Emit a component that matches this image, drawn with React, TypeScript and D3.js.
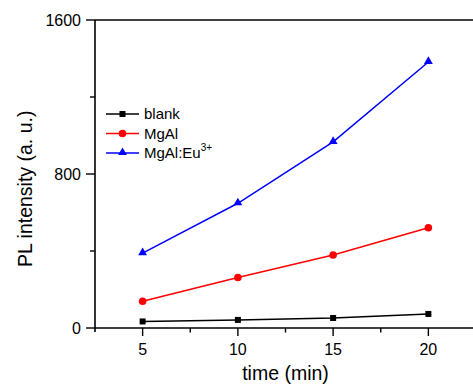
import React from "react";
import * as d3 from "d3";

const times = [5, 10, 15, 20];
const blankValues = [34, 42, 52, 73];
const mgalValues = [139, 262, 379, 521];
const euValues = [389, 648, 967, 1382];
const yTicks = [0, 800, 1600];
const yMinorTicks = [400, 1200];
const xTicks = [5, 10, 15, 20];
const xMinorTicks = [7.5, 12.5, 17.5];

const W = 473;
const H = 389;
const FONT = "'Liberation Sans', Arial, sans-serif";

const x = d3.scaleLinear().domain([2.5, 22.5]).range([95, 476]);
const y = d3.scaleLinear().domain([0, 1600]).range([328, 20]);

type Series = { name: string; values: number[]; color: string; marker: "square" | "circle" | "triangle" };
const series: Series[] = [
  { name: "blank", values: blankValues, color: "#000000", marker: "square" },
  { name: "MgAl", values: mgalValues, color: "#ff0000", marker: "circle" },
  { name: "MgAl:Eu", values: euValues, color: "#0000ff", marker: "triangle" },
];

function Marker({ kind, cx, cy, color }: { kind: string; cx: number; cy: number; color: string }) {
  if (kind === "square") return <rect x={cx - 3} y={cy - 3} width={6} height={6} fill={color} />;
  if (kind === "circle") return <circle cx={cx} cy={cy} r={3.8} fill={color} />;
  const sym = d3.symbol().type(d3.symbolTriangle).size(34)();
  return <path d={sym || ""} transform={`translate(${cx},${cy - 0.5})`} fill={color} />;
}

export default function App() {
  const line = d3
    .line<[number, number]>()
    .x((d) => x(d[0]))
    .y((d) => y(d[1]));
  const [x0, x1] = x.range();
  const [yb, yt] = y.range();
  const legendY = [114, 133.5, 153];

  return (
    <svg
      width={W}
      height={H}
      style={{ position: "absolute", left: 0, top: 0, background: "#fff" }}
      fontFamily={FONT}
    >
      {/* frame */}
      <g stroke="#000" strokeWidth={1.6} fill="none">
        <line x1={x0} y1={yt} x2={x1} y2={yt} />
        <line x1={x0} y1={yb} x2={x1} y2={yb} />
        <line x1={x0} y1={yt} x2={x0} y2={yb + 4} />
        <line x1={x1} y1={yt} x2={x1} y2={yb} />
      </g>

      {/* y ticks */}
      <g stroke="#000" strokeWidth={1.4}>
        {yTicks.map((t) => (
          <line key={t} x1={x0 - 9} x2={x0} y1={y(t)} y2={y(t)} />
        ))}
        {yMinorTicks.map((t) => (
          <line key={t} x1={x0 - 5} x2={x0} y1={y(t)} y2={y(t)} />
        ))}
      </g>
      {yTicks.map((t) => (
        <text key={t} x={x0 - 14} y={y(t)} dy="0.36em" textAnchor="end" fontSize={16} fill="#000">
          {t}
        </text>
      ))}

      {/* x ticks */}
      <g stroke="#000" strokeWidth={1.4}>
        {xTicks.map((t) => (
          <line key={t} x1={x(t)} x2={x(t)} y1={yb} y2={yb + 8} />
        ))}
        {xMinorTicks.map((t) => (
          <line key={t} x1={x(t)} x2={x(t)} y1={yb} y2={yb + 4.5} />
        ))}
      </g>
      {xTicks.map((t) => (
        <text key={t} x={x(t)} y={355} textAnchor="middle" fontSize={16} fill="#000">
          {t}
        </text>
      ))}

      {/* axis titles */}
      <text x={(x0 + x1) / 2} y={380} textAnchor="middle" fontSize={19.5} fill="#000">
        time (min)
      </text>
      <text
        transform="translate(32,267) rotate(-90)"
        textAnchor="start"
        fontSize={19.5}
        fill="#000"
      >
        PL intensity (a. u.)
      </text>

      {/* series */}
      {series.map((s) => {
        const pts: [number, number][] = times.map((t, i) => [t, s.values[i]]);
        return (
          <g key={s.name}>
            <path d={line(pts) || ""} fill="none" stroke={s.color} strokeWidth={1.5} />
            {pts.map((p, i) => (
              <Marker key={i} kind={s.marker} cx={x(p[0])} cy={y(p[1])} color={s.color} />
            ))}
          </g>
        );
      })}

      {/* legend */}
      {series.map((s, i) => (
        <g key={s.name}>
          <line x1={106} x2={139} y1={legendY[i]} y2={legendY[i]} stroke={s.color} strokeWidth={1.5} />
          <Marker kind={s.marker} cx={122.5} cy={legendY[i]} color={s.color} />
          <text x={144} y={legendY[i]} dy="0.36em" fontSize={15} fill="#000">
            {s.name}
            {s.marker === "triangle" ? (
              <tspan fontSize={10} dy="-0.75em">3+</tspan>
            ) : null}
          </text>
        </g>
      ))}
    </svg>
  );
}
